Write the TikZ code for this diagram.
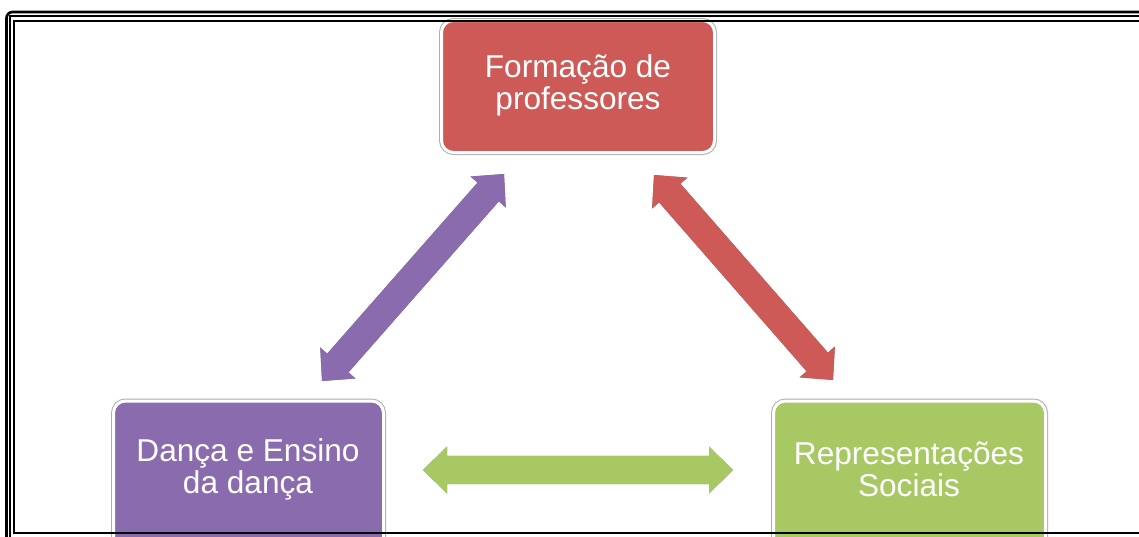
\documentclass[tikz,border=0pt]{standalone}
\usepackage{fontspec}
\setmainfont{Liberation Sans}
\usetikzlibrary{calc}
\definecolor{fpred}{RGB}{205,90,87}
\definecolor{ddpurple}{RGB}{138,107,173}
\definecolor{rsgreen}{RGB}{168,200,100}
\tikzset{
  boxst/.style={rounded corners=12pt, fill=#1, draw=white, line width=3pt,
    preaction={draw=black!32, line width=5pt}, inner sep=0pt},
  txt/.style={text=white, align=center, font=\fontsize{31.6}{32}\selectfont, inner sep=0pt},
  frameline/.style={draw=black, line cap=butt},
  arrshadow/.style={fill=black, opacity=0.5, shift={(1.6,1.6)}}
}
\newcommand\arrpoly[3]{%
      (#1) -- ($(#3a)!23.5pt!90:(#2)$) -- ($(#3a)!14.2pt!90:(#2)$)
      -- ($(#3b)!14.2pt!-90:(#1)$) -- ($(#3b)!23.5pt!-90:(#1)$)
      -- (#2) -- ($(#3b)!23.5pt!90:(#1)$) -- ($(#3b)!14.2pt!90:(#1)$)
      -- ($(#3a)!14.2pt!-90:(#2)$) -- ($(#3a)!23.5pt!-90:(#2)$) -- cycle}
\newcommand\dblarrow[4]{% colour, A, B, prefix
  \coordinate (#4a) at ($(#2)!24pt!(#3)$);
  \coordinate (#4b) at ($(#3)!24pt!(#2)$);
  \path[arrshadow] \arrpoly{#2}{#3}{#4};
  \path[fill=#1] \arrpoly{#2}{#3}{#4};
}
\begin{document}
\begin{tikzpicture}[x=1pt,y=-1pt]
\useasboundingbox (0,0) rectangle (1139,536);
\fill[white] (0,0) rectangle (1139,536);
% boxes
\node[boxst=fpred, minimum width=273pt, minimum height=132pt] (fp) at (578,86.5) {};
\node[txt] (fpt) at (578,85) {Formação de\\professores};
\node[boxst=ddpurple, minimum width=270pt, minimum height=160pt] (dd) at (248.5,481) {};
\node[txt] (ddt) at (248,469.5) {Dança e Ensino\\da dança};
\node[boxst=rsgreen, minimum width=272pt, minimum height=160pt] (rs) at (909.5,481) {};
\node[txt] (rst) at (909,469.5) {Representações\\Sociais};
% arrows
\coordinate (pA) at (322,381);
\coordinate (pB) at (504,174);
\coordinate (rA) at (654,175);
\coordinate (rB) at (833,380);
\coordinate (gA) at (423,470);
\coordinate (gB) at (733,470);
\dblarrow{ddpurple}{pA}{pB}{pp}
\dblarrow{fpred}{rA}{rB}{rr}
\dblarrow{rsgreen}{gA}{gB}{gg}
% frame
\draw[frameline, line width=2.6pt, rounded corners=6pt] (6.5,600) -- (6.5,12) -- (1200,12);
\draw[frameline, line width=1.6pt] (10.2,600) -- (10.2,16) -- (1200,16);
\draw[frameline, line width=2pt] (1200,533) -- (14.2,533) -- (14.2,20.5) -- (1200,20.5);
\end{tikzpicture}
\end{document}
